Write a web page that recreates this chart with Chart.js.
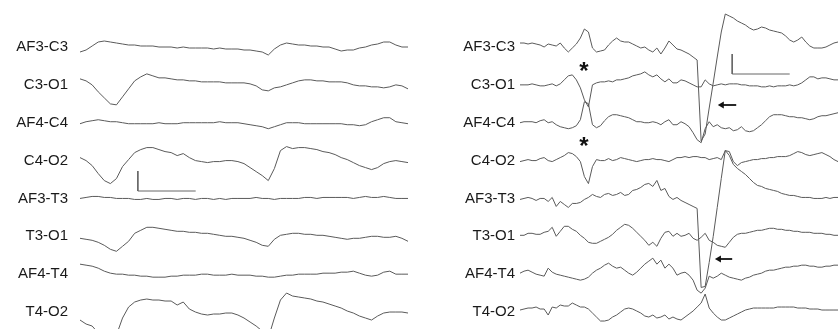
<!DOCTYPE html>
<html>
<head>
<meta charset="utf-8">
<script src="https://cdn.jsdelivr.net/npm/chart.js@4.4.1/dist/chart.umd.min.js"></script>
<style>
  html, body { margin: 0; padding: 0; background: #fff; }
  #wrap { position: relative; width: 838px; height: 329px; overflow: hidden; }
  #left { position: absolute; left: 0; top: 0; }
  #right { position: absolute; left: 420px; top: 0; }
</style>
</head>
<body>
<div id="wrap">
  <canvas id="left" width="408" height="329"></canvas>
  <canvas id="right" width="418" height="329"></canvas>
</div>
<script>
const channels = ['AF3-C3', 'C3-O1', 'AF4-C4', 'C4-O2', 'AF3-T3', 'T3-O1', 'AF4-T4', 'T4-O2'];

// left recording, one sample every 0.105 s (µV)
const leftAF3C3 = [-5,-3,1,5,6,5,4,3,2,2, 1,1,1,0,0,0,-1,0,-1,-1, -1,-1,-2,-1,-2,-2,-2,-3,-3,-4, -5,-8,-2,2,4,3,2,2,1,1, 0,0,-2,-4,-3,-3,-1,0,2,3, 5,5,2,0,0];
const leftC3O1 = [6,4,0,-7,-13,-19,-20,-12,-4,4, 8,11,9,7,7,6,5,5,4,4, 3,3,3,3,2,2,2,2,1,-1, -5,-6,-3,-2,0,2,4,5,5,4, 4,3,3,3,2,0,-1,-1,-2,-2, -3,-2,0,-1,-4];
const leftAF4C4 = [-1,1,2,3,2,1,1,0,-1,-1, -1,-1,-1,0,-1,-1,-1,0,0,0, 0,0,0,1,0,0,0,-1,-2,-3, -4,-6,-4,-2,0,0,0,-1,-1,-1, -1,-1,-1,-1,-2,-2,-3,-2,1,3, 5,5,1,0,-1];
const leftC4O2 = [3,0,-5,-13,-20,-23,-18,-6,1,8, 11,13,13,11,9,8,5,7,3,0, -1,-2,-1,-1,0,0,-1,-3,-7,-11, -15,-20,-8,10,14,12,13,13,12,11, 9,8,6,3,1,-2,-5,-7,-9,-7, -3,-1,0,-1,-2];
const leftAF3T3 = [0,1,2,2,1,1,0,0,0,-1, -1,0,-1,-1,0,0,-1,0,0,-1, 0,0,-1,0,-1,0,0,0,0,1, 0,0,-1,0,0,0,0,1,1,0, 1,1,1,1,1,0,1,2,1,1, 2,1,0,0,0];
const leftT3O1 = [-2,-3,-4,-6,-9,-13,-15,-10,-5,3, 6,9,9,8,7,6,5,5,4,4, 3,3,2,1,0,0,-1,-2,-4,-6, -9,-10,-3,1,2,3,3,2,2,1, 1,0,-1,-2,-3,-2,-2,-1,0,0, -1,-1,0,-2,-5];
const leftAF4T4 = [10,9,8,6,3,1,0,0,-1,-1, -2,-2,-3,-3,-3,-2,-2,-1,-1,-1, 0,0,-1,-1,-1,0,-1,-1,-1,-2, -2,-3,-3,-2,-1,-1,0,0,0,0, 1,1,1,2,2,3,1,-1,-2,-1, 2,3,0,0,0];
const leftT4O2 = [-8,-12,-14,-21,-28,-33,-23,-6,5,10, 12,13,12,12,11,11,7,10,3,0, -2,-3,-2,-2,-1,-1,-3,-6,-10,-14, -19,-26,-6,12,19,16,15,14,13,11, 10,8,6,4,1,-1,-4,-6,-8,-4, -1,0,0,0,-1];

// right recording, one sample every 0.07 s (µV)
const rightAF3C3 = [4,4,3,4,3,2,0,3,2,1, 4,-1,-5,-1,3,9,18,15,-1,-5, -4,-3,2,6,9,6,5,5,3,1, -1,0,-3,-5,-1,-7,-1,6,2,-2, -3,-5,-7,-10,-13,-94,-87,-61,-36,-10, 15,33,31,29,26,24,22,19,17,18, 20,19,17,16,15,14,11,7,5,7, 10,5,1,-1,-1,-1,0,2,4,5];
const rightC3O1 = [0,0,0,1,0,-1,-1,0,1,-1, 1,5,9,10,5,-3,-15,-22,0,2, 3,3,4,3,5,5,6,7,9,10, 11,13,10,8,10,6,3,6,2,2, 5,4,2,0,-2,-2,5,1,-1,0, 1,0,1,1,1,0,0,-1,-1,-1, -2,-2,-1,-2,-1,-1,-1,0,-1,0, 2,5,8,8,6,7,7,6,5,5];
const rightAF4C4 = [0,1,1,1,0,2,3,0,1,-2, -4,-5,-6,-5,-3,3,21,19,-2,-5, -3,2,6,8,8,7,6,5,3,1, 1,0,0,1,0,-2,1,3,-2,-2, 1,-1,-4,-10,-17,-20,-6,1,-4,-2, -5,-6,-5,-8,-7,-4,-8,-9,-8,-5, -2,2,6,8,8,8,7,6,6,5, 5,4,3,4,6,7,7,8,9,10];
const rightC4O2 = [-1,0,1,0,0,2,3,0,-1,1, 3,5,8,7,4,-1,-16,-23,-6,1, 0,0,2,0,1,3,2,1,0,-1, 0,1,1,2,1,1,0,-1,1,3, 3,4,3,4,4,3,3,1,2,3, 1,10,9,-1,-5,-2,-1,0,1,1, 2,2,3,3,4,4,4,5,7,9, 8,6,5,6,7,8,6,4,1,-1];
const rightAF3T3 = [-1,0,1,0,-2,0,0,-3,1,-8, -3,-6,-9,-5,-5,-4,-1,1,4,2, 1,4,5,3,4,6,3,4,8,9, 11,14,15,12,18,8,10,2,-1,1, -2,-4,-6,-8,-10,-89,-88,-64,-38,-9, 20,48,43,34,30,27,24,20,16,13, 12,10,9,8,7,5,4,3,3,2, 1,1,1,0,0,0,1,0,1,1];
const rightT3O1 = [1,1,3,3,2,2,4,5,9,0, 5,10,10,7,5,1,-2,-6,-7,-7, -5,-3,-1,2,6,9,12,11,8,4, 0,-4,-9,-6,-10,-2,4,5,0,3, 0,1,3,-2,-4,-1,3,-4,-6,-9, -10,-11,-6,-1,2,3,3,4,5,6, 6,7,8,8,7,7,6,6,5,5, 4,4,4,3,3,3,2,2,1,1];
const rightAF4T4 = [1,3,4,2,0,-1,-2,6,2,0, -1,-2,-3,-4,-5,-6,-5,-3,1,4, 6,9,11,8,6,7,4,1,-1,2, 6,10,13,16,10,14,6,10,6,-1, 1,2,-1,-6,-16,-19,-14,-2,-4,-2, 1,-1,-3,-4,-5,-6,-4,-3,-1,0, 1,3,4,4,5,6,7,7,8,8, 9,9,8,8,7,7,8,8,9,9];
const rightT4O2 = [2,3,4,4,5,3,3,-3,5,4, 7,6,6,9,7,5,5,3,-1,-5, -9,-9,-8,-5,-3,0,3,4,3,1, -1,-4,-5,-3,-6,-5,-3,-7,-5,-7, -8,-5,-2,1,5,9,18,4,-1,-5, -8,-8,-6,-4,-2,0,2,3,4,4, 4,4,4,4,5,5,5,5,5,4, 4,4,3,3,3,2,2,2,2,2];

const leftTraces = [leftAF3C3, leftC3O1, leftAF4C4, leftC4O2, leftAF3T3, leftT3O1, leftAF4T4, leftT4O2];
const rightTraces = [rightAF3C3, rightC3O1, rightAF4C4, rightC4O2, rightAF3T3, rightT3O1, rightAF4T4, rightT4O2];

const GAP = 37.86;      // offset between channels, µV
const TOP = 47;         // headroom above first channel
const BOTTOM = TOP - 329;

// asterisks and arrows, placed in data units
const marksPlugin = {
  id: 'eegMarks',
  afterDatasetsDraw(chart, args, opts) {
    const ctx = chart.ctx;
    const x = chart.scales.x, y = chart.scales.y;
    (opts.items || []).forEach((m) => {
      ctx.save();
      if (m.kind === 'star') {
        ctx.fillStyle = '#111';
        ctx.font = 'bold 24px "Liberation Sans", Arial, sans-serif';
        ctx.textAlign = 'center';
        ctx.textBaseline = 'middle';
        ctx.fillText('*', x.getPixelForValue(m.t), y.getPixelForValue(m.v) + 5);
      } else {
        const tip = x.getPixelForValue(m.t0);
        const tail = x.getPixelForValue(m.t1);
        const py = y.getPixelForValue(m.v);
        ctx.strokeStyle = '#111';
        ctx.fillStyle = '#111';
        ctx.lineWidth = 1.8;
        ctx.beginPath();
        ctx.moveTo(tip + 4, py);
        ctx.lineTo(tail, py);
        ctx.stroke();
        ctx.beginPath();
        ctx.moveTo(tip, py);
        ctx.lineTo(tip + 6, py - 3.5);
        ctx.lineTo(tip + 6, py + 3.5);
        ctx.closePath();
        ctx.fill();
      }
      ctx.restore();
    });
  }
};

function drawPanel(id, traces, dt, axisWidth, labelPad, bar, items) {
  const datasets = traces.map((vals, i) => ({
    data: vals.map((v, k) => ({ x: k * dt, y: v - i * GAP })),
    borderColor: '#5a5a5a',
    borderWidth: 1,
    pointRadius: 0,
    tension: 0
  }));
  // calibration bar: 1 s by 20 µV
  datasets.push({
    data: [
      { x: bar.t, y: bar.v + 20 },
      { x: bar.t, y: bar.v },
      { x: bar.t + 1, y: bar.v }
    ],
    borderColor: '#666',
    borderWidth: 1,
    pointRadius: 0,
    tension: 0
  });

  new Chart(document.getElementById(id), {
    type: 'line',
    data: { datasets },
    options: {
      animation: false,
      responsive: false,
      layout: { padding: 0 },
      plugins: {
        legend: { display: false },
        tooltip: { enabled: false },
        eegMarks: { items }
      },
      scales: {
        x: { type: 'linear', display: false, min: 0, max: (traces[0].length - 1) * dt },
        y: {
          min: BOTTOM,
          max: TOP,
          grid: { display: false, drawTicks: false },
          border: { display: false },
          ticks: {
            autoSkip: false,
            padding: labelPad,
            color: '#1a1a1a',
            font: { family: '"Liberation Sans", Arial, sans-serif', size: 15 },
            callback: (v) => channels[Math.round(-v / GAP)]
          },
          afterBuildTicks: (s) => {
            s.ticks = channels.map((c, i) => ({ value: -i * GAP }));
          },
          afterFit: (s) => {
            s.width = axisWidth;
            s.paddingTop = 0;
            s.paddingBottom = 0;
          }
        }
      }
    },
    plugins: [marksPlugin]
  });
}

drawPanel('left', leftTraces, 0.105, 80, 12, { t: 1.0, v: -144 }, []);
drawPanel('right', rightTraces, 0.07, 100, 5, { t: 3.69, v: -27 }, [
  { kind: 'star', t: 1.11, v: -20 },
  { kind: 'star', t: 1.11, v: -95 },
  { kind: 'arrow', t0: 3.44, t1: 3.76, v: -58 },
  { kind: 'arrow', t0: 3.39, t1: 3.69, v: -212 }
]);
</script>
</body>
</html>
